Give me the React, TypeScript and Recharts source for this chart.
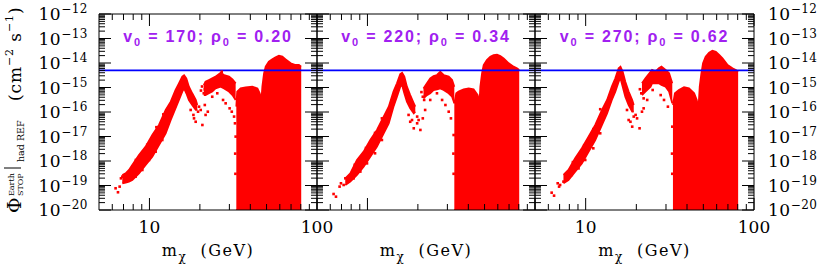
import React from "react";
import { ComposedChart, Area, Scatter, XAxis, YAxis, ReferenceLine } from "recharts";

const W = 817;
const H = 273;
const TOP = 14;
const BOTTOM = 210;
const PANEL_X = [99, 317, 535, 754];

const SERIF = "'DejaVu Serif', 'Liberation Serif', serif";
const SANS = "'Liberation Sans', Arial, sans-serif";
const PURPLE = "#a020f0";
const RED = "#ff0000";

// axes
const M_DOMAIN = [5, 100];
const F_DOMAIN = [1e-20, 1e-12];
const M_MAJOR = [10, 100];
const M_MINOR = [6, 7, 8, 9, 20, 30, 40, 50, 60, 70, 80, 90];
const F_MAJOR = [1e-20, 1e-19, 1e-18, 1e-17, 1e-16, 1e-15, 1e-14, 1e-13, 1e-12];
const F_MINOR = F_MAJOR.slice(0, -1).flatMap((d) => [2, 3, 4, 5, 6, 7, 8, 9].map((k) => k * d));
const M_TICKS = [...M_MINOR, ...M_MAJOR].sort((a, b) => a - b);
const F_TICKS = [...F_MAJOR, ...F_MINOR].sort((a, b) => a - b);

// blue limit line
const F_LIMIT = 5e-15;

// panel labels
const V0 = ["170", "220", "270"];
const RHO0 = ["0.20", "0.34", "0.62"];

// [m (GeV), low, high] bands
const ARM_1 = [
  [6.89, 1.23e-19, 2.69e-19], [7.21, 1.31e-19, 3.14e-19], [7.55, 1.44e-19, 4.3e-19], [7.9, 1.68e-19, 6.9e-19],
  [8.66, 3.14e-19, 1.76e-18], [9.49, 6.9e-19, 3.85e-18], [10.4, 1.5e-18, 1.15e-17], [11.4, 4.5e-18, 2.95e-17],
  [12.5, 1.35e-17, 1.21e-16], [13.4, 4.7e-17, 2.64e-16], [14.3, 1.41e-16, 7.9e-16], [15.0, 3.1e-16, 1.48e-15],
  [15.7, 6.8e-16, 2.77e-15], [16.1, 9.2e-16, 3.14e-15], [16.6, 5.8e-16, 2.37e-15], [17.2, 3.1e-16, 1.08e-15],
  [18.0, 1.93e-16, 5.8e-16], [18.9, 1.21e-16, 3.1e-16], [19.3, 1.21e-16, 1.93e-16],
];
const BUMP_1 = [
  [21.1, 4.9e-16, 1.26e-15], [21.6, 4.9e-16, 1.73e-15], [22.65, 5.8e-16, 2.03e-15], [23.7, 6.8e-16, 2.37e-15],
  [24.8, 9.2e-16, 2.77e-15], [26.6, 1.08e-15, 4.0e-15], [27.9, 9.2e-16, 3.24e-15], [29.85, 6.8e-16, 2.77e-15],
  [31.3, 4.9e-16, 2.16e-15], [32.7, 3.1e-16, 1.48e-15],
];
const BLOCK_1 = [
  [33.0, 1e-20, 1.65e-16], [33.4, 1e-20, 6.8e-16], [35.0, 1e-20, 9.2e-16], [37.5, 1e-20, 1.02e-15],
  [41.1, 1e-20, 1.08e-15], [44.1, 1e-20, 9.2e-16], [45.5, 1e-20, 5.8e-16], [46.6, 1e-20, 3.1e-16],
  [47.2, 1e-20, 1.08e-15], [48.3, 1e-20, 3.8e-15], [49.4, 1e-20, 7.1e-15], [51.6, 1e-20, 1.13e-14],
  [54.1, 1e-20, 1.41e-14], [56.6, 1e-20, 1.71e-14], [59.3, 1e-20, 2.0e-14], [62.1, 1e-20, 1.82e-14],
  [65.0, 1e-20, 1.41e-14], [69.7, 1e-20, 9.7e-15], [74.5, 1e-20, 8.3e-15], [78.0, 1e-20, 8.3e-15],
  [80.5, 1e-20, 7.1e-15],
];
const DOTS_1 = [
  [6.28, 7.7e-20], [6.49, 5.3e-20], [6.64, 9.0e-20], [6.76, 1.96e-19], [6.89, 2.3e-19], [7.05, 1.44e-19],
  [8.27, 2.3e-19], [9.07, 4.3e-19], [9.94, 1.1e-18], [10.89, 2.4e-18], [11.93, 7.2e-18],
  [8.3, 1.1e-18], [9.7, 4.6e-18], [11.0, 2.4e-17], [12.1, 8.0e-17],
  [17.62, 1.21e-16], [18.3, 7.6e-17], [18.45, 5.5e-17], [18.88, 4.0e-17], [19.5, 1.03e-16], [19.77, 1.65e-16],
  [20.23, 1.21e-16], [20.7, 2.95e-17], [21.4, 1.93e-16], [21.63, 7.6e-17], [22.3, 1.03e-16],
  [21.1, 5.8e-16], [22.1, 6.8e-16], [21.4, 8.4e-16], [23.7, 4.2e-16], [25.4, 5.8e-16], [27.5, 3.1e-16],
  [28.5, 2.26e-16], [30.1, 1.41e-16], [31.0, 1.03e-16], [32.0, 6.5e-17], [32.4, 3.45e-17], [32.7, 9.9e-18],
  [27.0, 4.4e-15], [32.5, 2e-18], [32.6, 3e-19], [20.6, 1.1e-15], [20.3, 7.5e-16],
];

const ARM_2 = [
  [7.38, 1.05e-19, 1.96e-19], [7.9, 1.44e-19, 3.14e-19], [8.66, 2.69e-19, 1.1e-18], [9.49, 5.9e-19, 2.4e-18],
  [10.4, 1.5e-18, 7.2e-18], [11.4, 3.85e-18, 1.85e-17], [12.5, 1.35e-17, 6.5e-17], [13.4, 3.45e-17, 1.65e-16],
  [14.3, 1.65e-16, 6.8e-16], [15.0, 4.2e-16, 1.48e-15], [15.7, 1.08e-15, 3.56e-15], [16.1, 1.26e-15, 4.0e-15],
  [16.6, 5.8e-16, 2.77e-15], [17.2, 2.64e-16, 1.08e-15], [18.0, 1.41e-16, 4.9e-16], [18.9, 8.8e-17, 2.26e-16],
  [19.3, 1.03e-16, 1.65e-16],
];
const BUMP_2 = [
  [21.6, 3.6e-16, 9.2e-16], [22.65, 4.9e-16, 1.48e-15], [23.7, 5.8e-16, 2.37e-15], [24.8, 7.9e-16, 2.95e-15],
  [26.0, 8.4e-16, 3.24e-15], [27.2, 9.2e-16, 4.4e-15], [28.5, 7.9e-16, 3.24e-15], [30.55, 5.8e-16, 2.77e-15],
  [32.0, 4.2e-16, 2.03e-15], [33.0, 2.26e-16, 1.08e-15],
];
const BLOCK_2 = [
  [33.0, 1e-20, 2.26e-16], [33.9, 1e-20, 5.8e-16], [35.0, 1e-20, 6.8e-16], [37.5, 1e-20, 8.4e-16],
  [40.2, 1e-20, 9.2e-16], [43.0, 1e-20, 8.4e-16], [45.5, 1e-20, 4.9e-16], [46.6, 1e-20, 2.26e-16],
  [47.2, 1e-20, 1.08e-15], [48.3, 1e-20, 3.8e-15], [49.4, 1e-20, 8.3e-15], [51.6, 1e-20, 1.33e-14],
  [54.1, 1e-20, 1.82e-14], [56.6, 1e-20, 2.12e-14], [59.3, 1e-20, 2.19e-14], [62.1, 1e-20, 1.93e-14],
  [65.0, 1e-20, 1.55e-14], [69.7, 1e-20, 9.7e-15], [74.5, 1e-20, 7.1e-15], [78.0, 1e-20, 6.1e-15],
  [80.5, 1e-20, 5.2e-15],
];
const DOTS_2 = [
  [6.28, 4.5e-20], [6.49, 3.5e-20], [6.82, 9.0e-20], [6.95, 1.23e-19], [7.21, 1.05e-19], [7.38, 1.96e-19],
  [7.55, 1.44e-19], [8.27, 1.96e-19], [9.07, 3.7e-19], [9.94, 8.0e-19], [11.1, 2.06e-18], [12.2, 7.2e-18],
  [8.4, 7.0e-19], [9.8, 3.4e-18], [11.1, 1.4e-17], [12.2, 5.5e-17],
  [17.6, 7.6e-17], [18.0, 4.0e-17], [18.45, 4.7e-17], [18.9, 2.16e-17], [19.8, 6.5e-17], [20.2, 4.7e-17],
  [20.7, 1.85e-17], [21.4, 5.5e-17], [22.1, 1.21e-16], [19.8, 3.45e-17],
  [21.4, 4.2e-16], [21.8, 3.1e-16], [23.7, 3.1e-16], [26.0, 5.8e-16], [27.9, 3.1e-16], [29.2, 1.93e-16],
  [30.55, 1.03e-16], [31.5, 5.5e-17], [32.7, 1.15e-17], [32.6, 2e-18], [32.7, 3e-19], [21.0, 6.5e-16],
];

const ARM_3 = [
  [7.38, 1.23e-19, 2.69e-19], [7.9, 1.68e-19, 4.3e-19], [8.66, 3.7e-19, 1.29e-18], [9.49, 8.0e-19, 3.3e-18],
  [10.4, 2.4e-18, 9.9e-18], [11.4, 7.2e-18, 2.95e-17], [12.5, 2.95e-17, 1.21e-16], [13.4, 8.8e-17, 3.1e-16],
  [14.3, 3.1e-16, 1.08e-15], [15.0, 6.8e-16, 2.37e-15], [15.7, 1.73e-15, 6.1e-15], [16.1, 2.37e-15, 7.1e-15],
  [16.6, 1.08e-15, 4.4e-15], [17.2, 4.2e-16, 1.73e-15], [18.0, 1.93e-16, 6.8e-16], [18.9, 1.03e-16, 3.1e-16],
  [19.3, 1.03e-16, 1.93e-16],
];
const BUMP_3 = [
  [21.6, 4.9e-16, 1.48e-15], [22.65, 6.8e-16, 2.37e-15], [24.3, 1.08e-15, 4.4e-15], [24.8, 1.48e-15, 5.2e-15],
  [26.0, 1.48e-15, 4.4e-15], [27.2, 1.48e-15, 6.1e-15], [28.2, 1.26e-15, 7.1e-15], [29.85, 1.08e-15, 5.2e-15],
  [31.3, 6.8e-16, 3.8e-15], [32.7, 2.26e-16, 1.48e-15],
];
const BLOCK_3 = [
  [33.0, 1e-20, 1.93e-16], [33.9, 1e-20, 5.8e-16], [35.8, 1e-20, 7.9e-16], [38.4, 1e-20, 1.02e-15],
  [41.1, 1e-20, 9.2e-16], [44.1, 1e-20, 5.8e-16], [45.7, 1e-20, 3.1e-16], [46.8, 1e-20, 1.41e-16],
  [47.6, 1e-20, 1.08e-15], [48.7, 1e-20, 3.8e-15], [49.8, 1e-20, 9.7e-15], [51.6, 1e-20, 1.82e-14],
  [54.1, 1e-20, 2.64e-14], [56.6, 1e-20, 3.2e-14], [59.3, 1e-20, 2.9e-14], [62.1, 1e-20, 2.12e-14],
  [65.0, 1e-20, 1.55e-14], [69.7, 1e-20, 8.3e-15], [74.5, 1e-20, 6.1e-15], [78.0, 1e-20, 5.2e-15],
  [80.5, 1e-20, 4.4e-15],
];
const DOTS_3 = [
  [6.28, 5.1e-20], [6.49, 3.85e-20], [6.82, 1.23e-19], [6.95, 9.0e-20], [7.05, 1.05e-19], [7.38, 1.44e-19],
  [7.73, 2.3e-19], [8.27, 2.69e-19], [9.07, 5.0e-19], [9.94, 1.1e-18], [11.1, 3.3e-18], [12.2, 1.35e-17],
  [8.4, 9.0e-19], [9.8, 4.4e-18], [11.1, 2.0e-17], [12.2, 1.3e-16],
  [17.6, 1.21e-16], [18.0, 4.7e-17], [18.45, 4.0e-17], [18.9, 2.52e-17], [19.3, 6.5e-17], [19.8, 7.6e-17],
  [20.2, 5.5e-17], [20.9, 2.16e-17], [21.6, 1.03e-16], [22.1, 1.41e-16],
  [21.4, 5.8e-16], [22.1, 3.6e-16], [23.2, 3.1e-16], [25.0, 7.9e-16], [27.9, 4.9e-16], [29.2, 3.1e-16],
  [30.8, 1.65e-16], [32.7, 2.52e-17], [32.6, 2e-18], [32.7, 3e-19], [21.0, 8.5e-16],
];

const PANELS = [
  { arm: ARM_1, bump: BUMP_1, block: BLOCK_1, dots: DOTS_1 },
  { arm: ARM_2, bump: BUMP_2, block: BLOCK_2, dots: DOTS_2 },
  { arm: ARM_3, bump: BUMP_3, block: BLOCK_3, dots: DOTS_3 },
];

const toBand = (rows: number[][]) => rows.map(([m, lo, hi]) => ({ m, f: [lo, hi] }));
const toDots = (rows: number[][]) => rows.map(([m, f]) => ({ m, f }));

const isDecade = (v: number) => Math.abs(Math.log10(v) - Math.round(Math.log10(v))) < 1e-6;

const PowerLabel = ({ x, y, v, anchor }: any) => (
  <text x={x} y={y + 6} textAnchor={anchor} fontFamily={SERIF} fontSize={17} fill="#000" letterSpacing={0.5}>
    10
    <tspan dy={-7} fontSize={12}>{`\u2212${-Math.round(Math.log10(v))}`}</tspan>
  </text>
);

const makeTick = (side: string, labels: boolean) => (props: any) => {
  const { x, y, payload } = props;
  const v = payload.value;
  const vert = side === "left" || side === "right";
  const major = vert ? isDecade(v) : M_MAJOR.includes(v);
  const len = major ? 12 : 6;
  let x2 = x, y2 = y;
  if (side === "left") x2 = x + len;
  if (side === "right") x2 = x - len;
  if (side === "bottom") y2 = y - len;
  if (side === "top") y2 = y + len;
  return (
    <g>
      <line x1={x} y1={y} x2={x2} y2={y2} stroke="#000" strokeWidth={1} />
      {labels && major && side === "left" && <PowerLabel x={x - 11} y={y} v={v} anchor="end" />}
      {labels && major && side === "right" && <PowerLabel x={x + 14} y={y} v={v} anchor="start" />}
      {labels && major && side === "bottom" && (
        <text x={x} y={y + 23} textAnchor="middle" fontFamily={SERIF} fontSize={17} fill="#000">
          {v}
        </text>
      )}
    </g>
  );
};

const Dot = (props: any) => (
  <rect x={props.cx - 1.3} y={props.cy - 1.3} width={2.6} height={2.6} fill={RED} />
);

const Panel = ({ idx }: { idx: number }) => {
  const p = PANELS[idx];
  const left = PANEL_X[idx];
  const right = PANEL_X[idx + 1];
  const axisLine = { stroke: "#000", strokeWidth: 1 };
  const common = { tickSize: 0, tickMargin: 0, tickLine: false, axisLine, interval: 0 as const, allowDataOverflow: true };
  return (
    <div style={{ position: "absolute", left: 0, top: 0 }}>
      <ComposedChart
        width={W}
        height={H}
        margin={{ top: TOP - 10, bottom: H - BOTTOM - 10, left: left - 10, right: W - right - 10 }}
      >
        <XAxis xAxisId="b" orientation="bottom" dataKey="m" type="number" scale="log" domain={M_DOMAIN}
          ticks={M_TICKS} height={10} tick={makeTick("bottom", idx !== 1)} {...common} />
        <XAxis xAxisId="t" orientation="top" dataKey="m" type="number" scale="log" domain={M_DOMAIN}
          ticks={M_TICKS} height={10} tick={makeTick("top", false)} {...common} />
        <YAxis yAxisId="l" orientation="left" type="number" scale="log" domain={F_DOMAIN}
          ticks={F_TICKS} width={10} tick={makeTick("left", idx === 0)} {...common} />
        <YAxis yAxisId="r" orientation="right" type="number" scale="log" domain={F_DOMAIN}
          ticks={F_TICKS} width={10} tick={makeTick("right", idx === 2)} {...common} />
        {[p.arm, p.bump, p.block].map((band, i) => (
          <Area key={i} xAxisId="b" yAxisId="l" data={toBand(band)} dataKey="f" type="linear"
            fill={RED} fillOpacity={1} stroke={RED} strokeWidth={1.8} dot={false} activeDot={false}
            isAnimationActive={false} />
        ))}
        <Scatter xAxisId="b" yAxisId="l" data={toDots(p.dots)} dataKey="f" shape={<Dot />} isAnimationActive={false} />
        <ReferenceLine xAxisId="b" yAxisId="l" y={F_LIMIT} stroke="#0000ff" strokeWidth={1.6} />
      </ComposedChart>
    </div>
  );
};

export default function App() {
  return (
    <div style={{ position: "absolute", left: 0, top: 0, width: W, height: H, background: "#fff" }}>
      {PANELS.map((_, i) => <Panel key={i} idx={i} />)}
      <svg width={W} height={H} style={{ position: "absolute", left: 0, top: 0, pointerEvents: "none" }}>
        {V0.map((v, i) => (
          <text key={i} x={(PANEL_X[i] + PANEL_X[i + 1]) / 2} y={42} textAnchor="middle" fontFamily={SANS}
            fontWeight="bold" fontSize={16} fill={PURPLE} letterSpacing={1.8} style={{ whiteSpace: "pre" }}>
            v<tspan dy={4} fontSize={11}>0</tspan>
            <tspan dy={-4}>{` = ${v}; \u03c1`}</tspan>
            <tspan dy={4} fontSize={11}>0</tspan>
            <tspan dy={-4}>{` = ${RHO0[i]}`}</tspan>
          </text>
        ))}
        {V0.map((_, i) => (
          <text key={i} x={(PANEL_X[i] + PANEL_X[i + 1]) / 2} y={256} textAnchor="middle" fontFamily={SERIF}
            fontSize={16} fill="#000" letterSpacing={1.5} style={{ whiteSpace: "pre" }}>
            m<tspan dy={5} fontSize={12}>{"\u03c7"}</tspan>
            <tspan dy={-5}>{"  (GeV)"}</tspan>
          </text>
        ))}
        <g transform="translate(21, 213) rotate(-90)" fontFamily={SERIF} fill="#000">
          <text x={0} y={0} fontSize={19}>{"\u03a6"}</text>
          <text x={17} y={-7} fontSize={8}>Earth</text>
          <text x={17} y={2} fontSize={8}>STOP</text>
          <line x1={45} y1={-17} x2={45} y2={0} stroke="#000" strokeWidth={1} />
          <text x={51} y={3} fontSize={9.5} style={{ whiteSpace: "pre" }}>had REF</text>
          <text x={112} y={0} fontSize={17} letterSpacing={0.9} style={{ whiteSpace: "pre" }}>
            (cm<tspan dy={-8} fontSize={11}>{"\u22122"}</tspan>
            <tspan dy={8}>{" s"}</tspan>
            <tspan dy={-8} fontSize={11}>{"\u22121"}</tspan>
            <tspan dy={8}>)</tspan>
          </text>
        </g>
      </svg>
    </div>
  );
}
